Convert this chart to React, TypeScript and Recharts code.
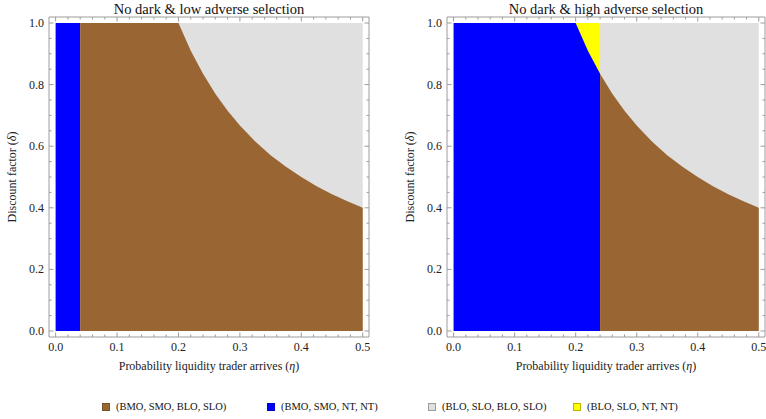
import { ComposedChart, Area, XAxis, YAxis, Label } from 'recharts'

const FONT = "'Liberation Serif', 'Times New Roman', Times, serif"

// boundary curve between (BMO,SMO,BLO,SLO) and (BLO,SLO,BLO,SLO)
const CURVE_ETA = [0.2, 0.22, 0.24, 0.26, 0.28, 0.3, 0.325, 0.35, 0.375, 0.4, 0.425, 0.45, 0.475, 0.5]
const CURVE_DELTA = [1.0, 0.91, 0.835, 0.77, 0.715, 0.667, 0.615, 0.571, 0.533, 0.5, 0.47, 0.444, 0.421, 0.4]

const LOW_BLUE_EDGE = 0.04
const HIGH_BLUE_EDGE = 0.24

const X_MAJOR = [0, 0.1, 0.2, 0.3, 0.4, 0.5]
const X_LABELS = ['0.0', '0.1', '0.2', '0.3', '0.4', '0.5']
const X_MINOR = [0.02, 0.04, 0.06, 0.08, 0.12, 0.14, 0.16, 0.18, 0.22, 0.24, 0.26, 0.28, 0.32, 0.34, 0.36, 0.38, 0.42, 0.44, 0.46, 0.48]
const Y_MAJOR = [0, 0.2, 0.4, 0.6, 0.8, 1.0]
const Y_LABELS = ['0.0', '0.2', '0.4', '0.6', '0.8', '1.0']
const Y_MINOR = [0.05, 0.1, 0.15, 0.25, 0.3, 0.35, 0.45, 0.5, 0.55, 0.65, 0.7, 0.75, 0.85, 0.9, 0.95]

const TITLES = ['No dark & low adverse selection', 'No dark & high adverse selection']
const REGIONS = ['(BMO, SMO, BLO, SLO)', '(BMO, SMO, NT, NT)', '(BLO, SLO, BLO, SLO)', '(BLO, SLO, NT, NT)']
const COLORS = ['#996633', '#0000ff', '#e0e0e0', '#ffff00']
const SWATCH_BORDER = ['#7a5229', '#0000cc', '#9a9a9a', '#b8b800']

const X_TICKS = [...X_MAJOR, ...X_MINOR].sort((a, b) => a - b)
const Y_TICKS = [...Y_MAJOR, ...Y_MINOR].sort((a, b) => a - b)

const curveAt = (eta: number) => {
  const i = CURVE_ETA.indexOf(eta)
  return i >= 0 ? CURVE_DELTA[i] : 1
}

const lowData = [0, LOW_BLUE_EDGE, ...CURVE_ETA].map((eta) => ({
  eta,
  gray: 1,
  blue: eta <= LOW_BLUE_EDGE ? 1 : null,
  brown: eta >= LOW_BLUE_EDGE ? curveAt(eta) : null,
  yellow: null,
}))

const highData = [0, ...CURVE_ETA].map((eta) => ({
  eta,
  gray: 1,
  yellow: eta >= CURVE_ETA[0] && eta <= HIGH_BLUE_EDGE ? 1 : null,
  blue: eta <= HIGH_BLUE_EDGE ? curveAt(eta) : null,
  brown: eta >= HIGH_BLUE_EDGE ? curveAt(eta) : null,
}))

const FRAME = '#9c9c9c'
const TXT = { fontFamily: FONT, fontSize: 12 }

function XTick(props: any) {
  const { x, y, payload, side } = props
  const i = X_MAJOR.indexOf(payload.value)
  const major = i >= 0
  const dir = side === 'bottom' ? -1 : 1
  return (
    <g>
      <line x1={x} y1={y} x2={x} y2={y + dir * (major ? 4.5 : 2.5)} stroke={FRAME} />
      {side === 'bottom' && major && (
        <text x={x} y={y + 14} textAnchor="middle" style={TXT} fill="#222">
          {X_LABELS[i]}
        </text>
      )}
    </g>
  )
}

function YTick(props: any) {
  const { x, y, payload, side } = props
  const i = Y_MAJOR.indexOf(payload.value)
  const major = i >= 0
  const dir = side === 'left' ? 1 : -1
  return (
    <g>
      <line x1={x} y1={y} x2={x + dir * (major ? 4.5 : 2.5)} y2={y} stroke={FRAME} />
      {side === 'left' && major && (
        <text x={x - 5} y={y + 4} textAnchor="end" style={TXT} fill="#222">
          {Y_LABELS[i]}
        </text>
      )}
    </g>
  )
}

function Panel({ data, yAxisWidth, width }: { data: any[]; yAxisWidth: number; width: number }) {
  const xDomain = [-0.0108, 0.5102]
  const yDomain = [-0.0195, 1.0195]
  return (
    <ComposedChart width={width} height={380} data={data} margin={{ top: 16, right: 0, left: 0, bottom: 0 }}>
      <XAxis xAxisId="b" dataKey="eta" type="number" domain={xDomain} allowDataOverflow ticks={X_TICKS}
        interval={0} tickSize={0} tickMargin={0} height={43} stroke={FRAME} tick={<XTick side="bottom" />}>
        <Label
          content={({ viewBox }: any) => (
            <text x={viewBox.x + viewBox.width / 2} y={viewBox.y + 33} textAnchor="middle" style={TXT} fill="#222">
              Probability liquidity trader arrives (<tspan fontStyle="italic">η</tspan>)
            </text>
          )} />
      </XAxis>
      <XAxis xAxisId="t" orientation="top" dataKey="eta" type="number" domain={xDomain} allowDataOverflow ticks={X_TICKS}
        interval={0} tickSize={0} tickMargin={0} height={1} stroke={FRAME} tick={<XTick side="top" />} />
      <YAxis yAxisId="l" type="number" domain={yDomain} allowDataOverflow ticks={Y_TICKS} interval={0}
        tickSize={0} tickMargin={0} width={yAxisWidth} stroke={FRAME} tick={<YTick side="left" />}>
        <Label content={({ viewBox }: any) => {
          const cx = viewBox.x + viewBox.width - 33
          const cy = viewBox.y + viewBox.height / 2
          return (
            <text x={cx} y={cy} transform={`rotate(-90 ${cx} ${cy})`} textAnchor="middle" style={TXT} fill="#222">
              Discount factor (<tspan fontStyle="italic">δ</tspan>)
            </text>
          )
        }} />
      </YAxis>
      <YAxis yAxisId="r" orientation="right" type="number" domain={yDomain} allowDataOverflow ticks={Y_TICKS} interval={0}
        tickSize={0} tickMargin={0} width={1} stroke={FRAME} tick={<YTick side="right" />} />
      <Area xAxisId="b" yAxisId="l" type="linear" dataKey="gray" fill={COLORS[2]} fillOpacity={1} stroke="none" isAnimationActive={false} dot={false} activeDot={false} />
      <Area xAxisId="b" yAxisId="l" type="linear" dataKey="yellow" fill={COLORS[3]} fillOpacity={1} stroke="none" isAnimationActive={false} dot={false} activeDot={false} />
      <Area xAxisId="b" yAxisId="l" type="linear" dataKey="blue" fill={COLORS[1]} fillOpacity={1} stroke="none" isAnimationActive={false} dot={false} activeDot={false} />
      <Area xAxisId="b" yAxisId="l" type="linear" dataKey="brown" fill={COLORS[0]} fillOpacity={1} stroke="none" isAnimationActive={false} dot={false} activeDot={false} />
      <Area xAxisId="t" yAxisId="r" type="linear" dataKey="gray" fill="none" stroke="none" isAnimationActive={false} dot={false} activeDot={false} />
    </ComposedChart>
  )
}

const LEGEND_LEFT = [102, 267, 428, 573]

export default function App() {
  return (
    <div style={{ position: 'absolute', left: 0, top: 0, width: 766, height: 419, background: '#fff', fontFamily: FONT }}>
      <div style={{ position: 'absolute', left: 49, top: 0, width: 320, textAlign: 'center', fontSize: 14.5, lineHeight: '18px', color: '#111' }}>
        {TITLES[0]}
      </div>
      <div style={{ position: 'absolute', left: 447, top: 0, width: 318, textAlign: 'center', fontSize: 14.5, lineHeight: '18px', color: '#111' }}>
        {TITLES[1]}
      </div>
      <div style={{ position: 'absolute', left: 0, top: 0 }}>
        <Panel data={lowData} yAxisWidth={49} width={370} />
      </div>
      <div style={{ position: 'absolute', left: 383, top: 0 }}>
        <Panel data={highData} yAxisWidth={64} width={383} />
      </div>
      {REGIONS.map((name, i) => (
        <div key={name} style={{ position: 'absolute', left: LEGEND_LEFT[i], top: 399, display: 'flex', alignItems: 'center', fontSize: 10.5, lineHeight: '16px', color: '#111', whiteSpace: 'nowrap' }}>
          <span style={{ display: 'inline-block', width: 6, height: 6, background: COLORS[i], border: `1px solid ${SWATCH_BORDER[i]}`, marginRight: 6 }} />
          {name}
        </div>
      ))}
    </div>
  )
}
